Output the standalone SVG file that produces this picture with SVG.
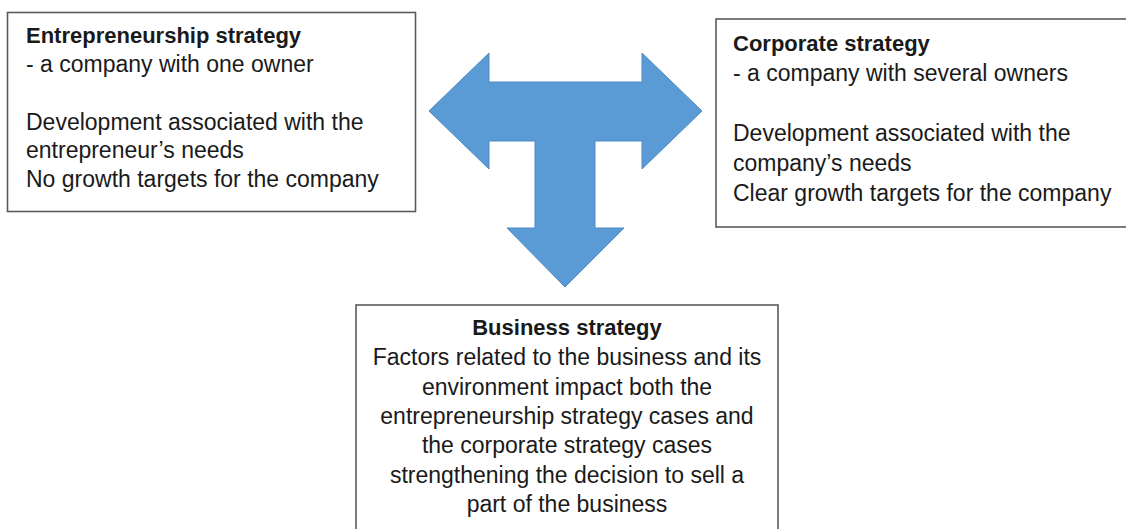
<svg xmlns="http://www.w3.org/2000/svg" width="1126" height="529" viewBox="0 0 1126 529">
<style>
.box{fill:#fff;stroke:#5a5a5a;stroke-width:1.6}
.t{font-family:"Liberation Sans",Arial,sans-serif;font-size:23px;fill:#1a1a1a}
.b{font-weight:bold;font-size:22px}
.c{text-anchor:middle}
.arrow{fill:#5b9bd5;stroke:#4f8cc6;stroke-width:1}
</style>
<rect width="1126" height="529" fill="#fff"/>
<g id="connectors">
<polygon class="arrow" points="429,111 489,53 489,82 642,82 642,53 702,111 642,169 642,141 595,141 595,228 624,228 565,287 507,228 535,228 535,141 489,141 489,169"/>
</g>
<g id="entrepreneurship">
<rect class="box" x="7.5" y="12.5" width="408" height="199"/>
<text class="t b" x="26" y="43">Entrepreneurship strategy</text>
<text class="t" x="26" y="72">- a company with one owner</text>
<text class="t" x="26" y="130">Development associated with the</text>
<text class="t" x="26" y="158">entrepreneur’s needs</text>
<text class="t" x="26" y="187">No growth targets for the company</text>
</g>
<g id="corporate">
<rect class="box" x="716" y="19" width="420" height="208"/>
<text class="t b" x="733" y="51">Corporate strategy</text>
<text class="t" x="733" y="81">- a company with several owners</text>
<text class="t" x="733" y="141">Development associated with the</text>
<text class="t" x="733" y="171">company’s needs</text>
<text class="t" x="733" y="201">Clear growth targets for the company</text>
</g>
<g id="business">
<rect class="box" x="356" y="305" width="422" height="240"/>
<text class="t b c" x="567" y="335">Business strategy</text>
<text class="t c" x="567" y="365">Factors related to the business and its</text>
<text class="t c" x="567" y="395">environment impact both the</text>
<text class="t c" x="567" y="424">entrepreneurship strategy cases and</text>
<text class="t c" x="567" y="453">the corporate strategy cases</text>
<text class="t c" x="567" y="483">strengthening the decision to sell a</text>
<text class="t c" x="567" y="512">part of the business</text>
</g>
</svg>
